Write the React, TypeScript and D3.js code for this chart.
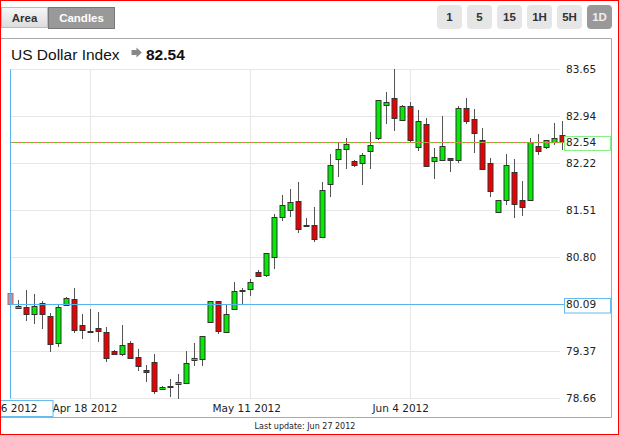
import React from "react";
import * as d3 from "d3";

const opens = [80.25,80.02,80.04,79.94,80.10,79.90,79.49,80.07,80.16,79.77,79.67,79.72,79.66,79.38,79.32,79.49,79.28,79.09,79.21,78.79,78.83,78.87,78.88,79.24,79.25,79.82,80.13,79.66,80.01,80.29,80.32,80.57,80.52,80.80,81.40,81.51,81.65,81.28,81.28,81.10,81.90,82.28,82.43,82.25,82.22,82.41,82.61,83.11,83.21,82.87,83.09,82.46,82.82,82.25,82.27,82.30,82.27,83.06,82.89,82.58,82.22,81.48,81.66,82.09,81.66,81.67,82.48,82.46,82.55,82.65];
const highs = [80.27,80.14,80.30,80.23,80.13,79.95,80.08,80.19,80.33,79.93,80.01,79.97,79.73,79.39,79.77,79.53,79.40,79.16,79.32,78.84,78.95,79.02,79.38,79.50,79.60,80.13,80.13,80.07,80.42,80.33,80.47,80.60,80.86,81.45,81.74,81.83,81.93,81.39,81.55,81.94,82.36,82.54,82.60,82.27,82.38,82.70,83.18,83.30,83.65,83.10,83.15,83.03,82.90,82.45,82.94,82.30,83.09,83.21,83.04,82.75,82.30,81.66,82.36,82.28,81.95,82.60,82.67,82.58,82.83,82.86];
const lows = [80.06,80.01,79.83,79.78,79.70,79.36,79.44,80.05,79.65,79.55,79.64,79.51,79.21,79.31,79.30,79.25,79.07,78.90,78.72,78.78,78.68,78.65,78.87,79.15,79.14,79.82,79.63,79.66,79.99,80.09,80.21,80.50,80.50,80.62,81.35,81.40,81.16,81.27,81.03,81.09,81.71,82.01,82.13,82.17,81.89,82.13,82.57,82.81,82.71,82.86,82.55,82.40,82.17,81.98,82.26,82.09,82.23,82.82,82.37,82.14,81.71,81.47,81.58,81.39,81.42,81.66,82.34,82.44,82.50,82.42];
const closes = [80.08,80.06,79.94,80.05,79.93,79.48,80.04,80.17,79.69,79.69,79.67,79.68,79.26,79.32,79.46,79.26,79.15,79.05,78.76,78.83,78.84,78.90,79.19,79.26,79.60,80.13,79.67,79.93,80.29,80.30,80.42,80.51,80.86,81.40,81.58,81.63,81.22,81.28,81.07,81.81,82.19,82.43,82.52,82.20,82.34,82.49,83.18,83.15,82.90,83.09,82.58,82.86,82.18,82.31,82.48,82.27,83.06,82.86,82.68,82.14,81.80,81.66,82.19,81.60,81.55,82.55,82.40,82.57,82.61,82.54];

const yTicks = [78.66, 79.37, 80.09, 80.80, 81.51, 82.22, 82.94, 83.65];
const xTickDates = ["2012-04-18", "2012-05-11", "2012-06-04"];
const startDate = "2012-04-06";
const lastValue = 82.54;
const crossValue = 80.09;
const title = "US Dollar Index";
const lastUpdate = "Last update: Jun 27 2012";
const periodButtons = ["1", "5", "15", "1H", "5H", "1D"];

// trading calendar (Saturdays excluded)
const parse = d3.timeParse("%Y-%m-%d");
const fmtKey = d3.timeFormat("%Y-%m-%d");
const fmtLabel = d3.timeFormat("%b %-d %Y");
const dates: string[] = [];
{
  let d = parse(startDate)!;
  while (dates.length < opens.length) {
    if (d.getDay() !== 6) dates.push(fmtKey(d));
    d = d3.timeDay.offset(d, 1);
  }
}

export default function App() {
  React.useEffect(() => {
    document.body.style.margin = "0";
  }, []);
  const W = 619, H = 435;
  const x = d3.scalePoint<string>().domain(dates).range([10, 562]);
  const y = d3.scaleLinear().domain([78.66, 83.65]).range([398, 69]);
  const crisp = (v: number) => Math.round(v) + 0.5;
  const axisFont = "'DejaVu Sans', Verdana, sans-serif";
  const arial = "'Liberation Sans', Arial, sans-serif";
  const gridLeft = 10, gridRight = 560;
  const yLast = crisp(y(lastValue));
  const yCross = crisp(y(crossValue));
  const xCross = crisp(x(dates[0])!);

  return (
    <svg width={W} height={H} style={{ position: "absolute", left: 0, top: 0, display: "block" }}>
      <defs>
        <linearGradient id="btnGrad" x1="0" y1="0" x2="0" y2="1">
          <stop offset="0" stopColor="#f7f7f7" />
          <stop offset="1" stopColor="#dcdcdc" />
        </linearGradient>
        <clipPath id="plotClip">
          <rect x={7} y={60} width={560} height={345} />
        </clipPath>
      </defs>
      <rect x={0} y={0} width={W} height={H} fill="#fff" />

      {/* type buttons */}
      <rect x={1.5} y={7.5} width={46} height={20} fill="url(#btnGrad)" stroke="#bbb" />
      <text x={24.5} y={21.5} textAnchor="middle" fontFamily={arial} fontWeight="bold" fontSize={11.5} fill="#333">Area</text>
      <rect x={48.5} y={7.5} width={66} height={21} fill="#999" stroke="#777" />
      <text x={81.5} y={22} textAnchor="middle" fontFamily={arial} fontWeight="bold" fontSize={11.5} fill="#fff">Candles</text>

      {/* period buttons */}
      {periodButtons.map((b, i) => {
        const bx = 437 + i * 30;
        const active = i === periodButtons.length - 1;
        return (
          <g key={b}>
            <rect x={bx} y={5} width={25} height={24} rx={4} fill={active ? "#999" : "#e6e6e6"} />
            <text x={bx + 12.5} y={21} textAnchor="middle" fontFamily={arial} fontWeight="bold" fontSize={11.5} fill={active ? "#eee" : "#333"}>{b}</text>
          </g>
        );
      })}

      {/* chart box */}
      <path d="M0,38.5 H611.5 V417.5 H0" fill="none" stroke="#aaa" />

      {/* title */}
      <text x={11} y={60} fontFamily={arial} fontSize={15.5} fill="#111">{title}</text>
      <path d="M131.5,50 H136.5 V47.5 L141.8,52.5 L136.5,57.5 V55 H131.5 Z" fill="#888" />
      <text x={146} y={60} fontFamily={arial} fontSize={15.5} fontWeight="bold" fill="#111">{lastValue.toFixed(2)}</text>

      {/* grid */}
      {yTicks.map((t) => (
        <line key={t} x1={gridLeft} x2={gridRight} y1={crisp(y(t))} y2={crisp(y(t))} stroke="#e6e6e6" />
      ))}
      {xTickDates.map((d) => (
        <line key={d} x1={crisp(x(d)!)} x2={crisp(x(d)!)} y1={crisp(y(83.65))} y2={crisp(y(78.66))} stroke="#e6e6e6" />
      ))}

      {/* y labels */}
      {yTicks.map((t) => (
        <text key={t} x={566} y={y(t) + 4} fontFamily={axisFont} fontSize={10.5} fill="#222">{t.toFixed(2)}</text>
      ))}
      {/* x labels */}
      {xTickDates.map((d) => (
        <text key={d} x={x(d)! - 37.5} y={412} fontFamily={axisFont} fontSize={10.5} fill="#222">{fmtLabel(parse(d)!)}</text>
      ))}

      {/* candles */}
      <g clipPath="url(#plotClip)">
        {dates.map((d, i) => {
          const cx = crisp(x(d)!);
          const o = opens[i], c = closes[i];
          const up = c >= o;
          const top = Math.round(y(Math.max(o, c)));
          const bot = Math.round(y(Math.min(o, c)));
          const h = Math.max(1, bot - top);
          const faded = i === 0;
          return (
            <g key={d}>
              <line x1={cx} x2={cx} y1={Math.round(y(highs[i]))} y2={Math.round(y(lows[i]))} stroke={faded ? "#999" : "#555"} />
              <rect x={cx - 2.5} y={top + 0.5} width={5} height={h}
                fill={faded ? "#e08888" : up ? "#00ee00" : "#ee0000"}
                stroke={faded ? "#a07070" : "#333"} />
            </g>
          );
        })}
      </g>

      {/* last value line */}
      <line x1={gridLeft} x2={564} y1={yLast} y2={yLast} stroke="#66cc22" />
      <line x1={gridLeft} x2={564} y1={yLast} y2={yLast} stroke="#ff6666" strokeDasharray="4,4" />
      <rect x={564.5} y={136.5} width={46} height={14} fill="#fff" stroke="#88ee88" />
      <text x={566} y={y(lastValue) + 4} fontFamily={axisFont} fontSize={10.5} fill="#222">{lastValue.toFixed(2)}</text>

      {/* crosshair */}
      <line x1={xCross} x2={xCross} y1={crisp(y(83.65))} y2={crisp(y(78.66))} stroke="#55b4ee" />
      <line x1={xCross} x2={564} y1={yCross} y2={yCross} stroke="#55b4ee" />
      <rect x={564.5} y={298.5} width={46} height={14.5} fill="#fff" stroke="#66bbee" />
      <text x={566} y={y(crossValue) + 4} fontFamily={axisFont} fontSize={10.5} fill="#222">{crossValue.toFixed(2)}</text>
      <rect x={-10} y={400.5} width={63} height={16} fill="#fff" stroke="#66bbee" />
      <text x={37.5} y={412} textAnchor="end" fontFamily={axisFont} fontSize={10.5} fill="#222">{fmtLabel(parse(dates[0])!)}</text>

      {/* footer */}
      <text x={305} y={429} textAnchor="middle" fontFamily={axisFont} fontSize={8} fill="#222">{lastUpdate}</text>

      {/* outer red border */}
      <rect x={0.5} y={0.5} width={W - 1} height={H - 1} fill="none" stroke="#ff0000" />
    </svg>
  );
}
